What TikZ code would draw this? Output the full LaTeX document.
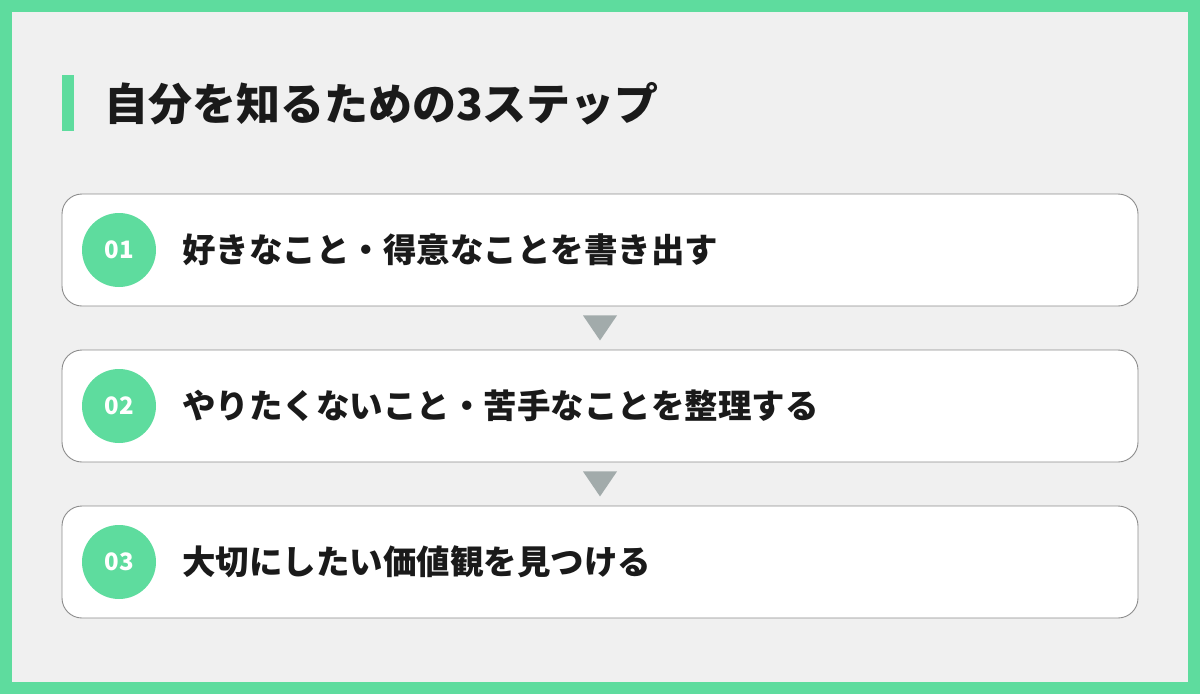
\documentclass[tikz,border=0pt]{standalone}
\usepackage{fontspec}
\usepackage{tikz}
\usetikzlibrary{positioning,calc}
\newfontfamily\jpfont{Noto Sans CJK JP}
\definecolor{mintgreen}{HTML}{5EDC9E}
\definecolor{panelgray}{HTML}{F0F0F0}
\definecolor{tipgray}{HTML}{A2ABAB}
\definecolor{edgegray}{HTML}{8C8C8C}
\definecolor{inkblack}{HTML}{1A1A1A}

\begin{document}
\begin{tikzpicture}[x=1pt, y=-1pt,
        stepbox/.style = {draw=edgegray, line width=0.9pt, fill=white, rounded corners=20pt,
                          minimum width=1076pt, minimum height=112pt, inner sep=0pt},
        badge/.style   = {circle, fill=mintgreen, minimum size=74pt, inner sep=0pt,
                          text=white, font=\jpfont\bfseries\fontsize{24}{26}\selectfont},
        steptext/.style = {anchor=west, inner sep=0pt, text=inkblack,
                          font=\jpfont\bfseries\fontsize{33.5}{38}\selectfont},
        tip/.style     = {fill=tipgray}
        ]
        % frame
        \fill[mintgreen] (0,0) rectangle (1200,694);
        \fill[panelgray] (12,12) rectangle (1188,682);
        \useasboundingbox (0,0) rectangle (1200,694);

        % title
        \fill[mintgreen] (62,75) rectangle (74,131);
        \node[anchor=west, inner sep=0pt, text=inkblack, font=\jpfont\bfseries\fontsize{44}{48}\selectfont]
            (title) at (104,104) {自分を知るための3ステップ};

        % steps
        \node[stepbox] (s1) at (600,250) {};
        \node[stepbox] (s2) at (600,406) {};
        \node[stepbox] (s3) at (600,562) {};

        \node[badge] (n1) at (119,250) {01};
        \node[badge] (n2) at (119,406) {02};
        \node[badge] (n3) at (119,562) {03};

        \node[steptext] (t1) at (182,250) {好きなこと・得意なことを書き出す};
        \node[steptext] (t2) at (182,406) {やりたくないこと・苦手なことを整理する};
        \node[steptext] (t3) at (182,562) {大切にしたい価値観を見つける};

        % arrows between steps
        \fill[tip] ($(s1.south)+(-17,9)$) -- ++(34,0) -- ++(-17,25) -- cycle;
        \fill[tip] ($(s2.south)+(-17,9)$) -- ++(34,0) -- ++(-17,25) -- cycle;
    \end{tikzpicture}
\end{document}
